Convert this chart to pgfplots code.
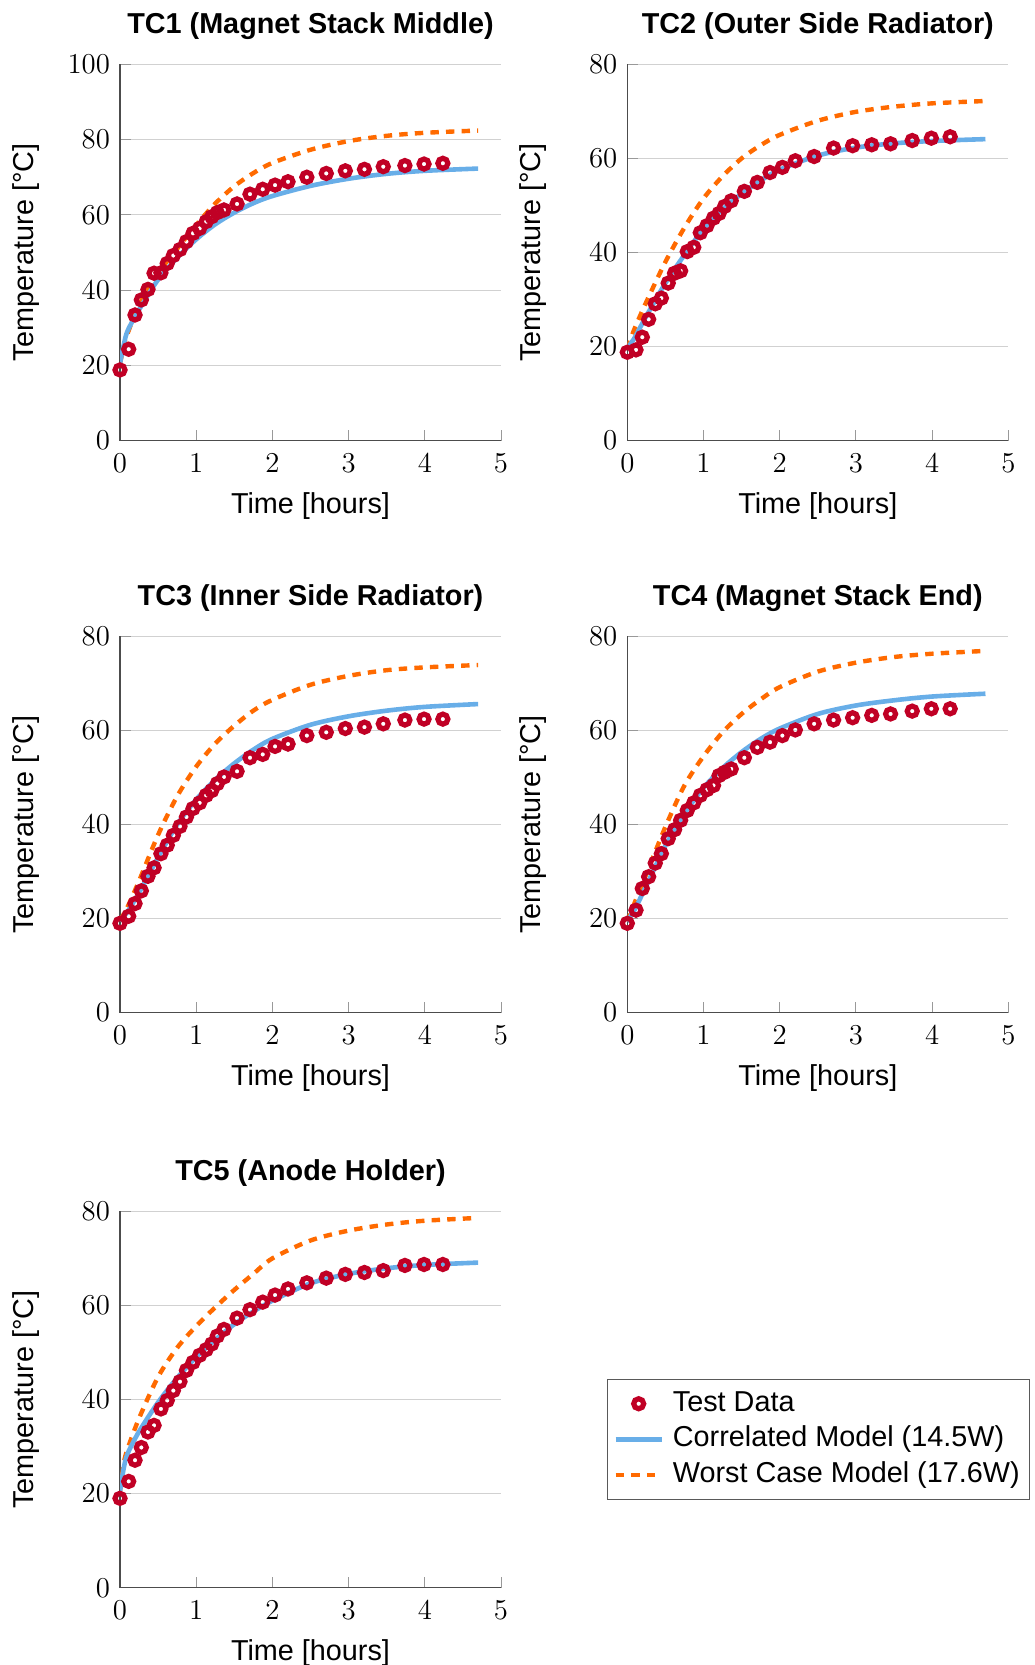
\documentclass[border=0pt]{standalone}
\usepackage{fontspec}
\setmainfont{Liberation Sans}
\usepackage{pgfplots}
\usepackage{pgfplotstable}
\pgfplotsset{compat=1.18}

\definecolor{tcred}{HTML}{C00025}
\definecolor{corrblue}{HTML}{68AEE8}
\definecolor{worstorange}{HTML}{FF6A00}

% Thermocouple measurements (time in hours, temperature in deg C)
\pgfplotstableread{
t     tc1  tc2  tc3  tc4  tc5
0     18.8 18.8 19.0 19.0 19.0
0.114 24.3 19.3 20.5 21.8 22.6
0.197 33.4 22.0 23.2 26.4 27.1
0.28  37.4 25.8 25.9 28.9 29.8
0.367 40.2 29.1 29.0 31.8 33.1
0.447 44.5 30.3 30.8 33.8 34.5
0.537 44.6 33.5 33.8 37.0 38.0
0.62  47.1 35.6 35.6 38.9 39.8
0.70  49.2 36.1 37.7 40.9 41.9
0.787 50.8 40.2 39.6 43.0 43.8
0.872 52.9 41.1 41.6 44.6 46.2
0.958 55.1 44.2 43.4 46.2 47.9
1.045 56.4 45.7 44.6 47.4 49.4
1.131 58.2 47.3 46.2 48.3 50.6
1.204 59.5 48.3 47.2 50.4 51.8
1.277 60.6 49.8 48.7 51.1 53.5
1.364 61.3 51.0 50.1 51.8 54.9
1.536 62.9 53.0 51.3 54.2 57.3
1.706 65.5 54.9 54.2 56.4 59.1
1.873 66.8 57.0 54.9 57.5 60.7
2.035 67.9 58.1 56.6 58.9 62.2
2.205 68.8 59.5 57.1 60.1 63.5
2.452 70.0 60.4 58.9 61.4 64.8
2.707 71.0 62.2 59.6 62.2 65.8
2.957 71.7 62.7 60.4 62.7 66.6
3.208 72.1 62.9 60.7 63.2 67.0
3.455 72.8 63.1 61.4 63.5 67.4
3.739 73.1 63.8 62.2 64.1 68.5
3.99  73.5 64.3 62.4 64.6 68.7
4.237 73.7 64.6 62.4 64.6 68.7
}\testdata

% Correlated model (14.5 W)
\pgfplotstableread{
t    tc1  tc2  tc3  tc4  tc5
0    20.5 19.5 19.5 19.3 20.5
0.05 25.5 20.8 20.5 20.7 25.5
0.1  29.2 22.0 21.5 22.0 28.5
0.25 34.8 26.5 25.5 27.0 33.2
0.5  42.8 33.5 33.0 35.5 39.4
0.75 48.6 39.5 40.0 42.3 44.6
1    53.5 45.0 45.3 47.8 49.0
1.25 57.5 49.2 49.5 52.0 52.7
1.5  60.6 52.5 53.0 55.4 56.0
1.75 63.1 55.3 55.9 58.2 58.7
2    65.0 57.6 58.2 60.4 61.0
2.5  67.7 60.6 61.2 63.5 64.7
3    69.6 62.3 63.0 65.3 66.7
3.5  70.9 63.2 64.2 66.4 67.9
4    71.7 63.7 65.0 67.2 68.6
4.7  72.3 64.1 65.6 67.8 69.1
}\corrmodel

% Worst case model (17.6 W)
\pgfplotstableread{
t    tc1  tc2  tc3  tc4  tc5
0    20.5 19.5 19.5 19.3 20.5
0.05 25.0 21.8 21.0 21.5 26.5
0.1  28.5 24.0 22.5 23.5 29.5
0.25 36.0 29.5 28.0 29.5 36.0
0.5  44.5 38.0 37.8 39.5 44.8
0.75 51.0 45.3 46.0 48.3 51.0
1    57.3 51.5 52.3 54.5 55.6
1.25 63.0 56.2 57.2 59.6 59.6
1.5  67.6 60.0 61.0 63.5 63.3
1.75 71.1 62.8 64.2 66.6 66.7
2    73.8 65.0 66.5 69.2 70.0
2.5  77.3 68.0 69.7 72.5 73.8
3    79.6 69.9 71.6 74.4 75.9
3.5  81.0 71.0 72.8 75.6 77.2
4    81.8 71.7 73.4 76.3 78.0
4.7  82.4 72.2 73.9 76.9 78.6
}\worstmodel

\newcommand{\chartfont}{\fontsize{14.4}{17.3}\selectfont}

\pgfplotsset{
  tcpanel/.style={
    scale only axis, width=190.5pt, height=188.2pt,
    xmin=0, xmax=5, ymin=0,
    xtick={0,1,2,3,4,5},
    axis x line*=bottom, axis y line*=left,
    axis line style={draw=black!70, line width=0.6pt},
    tick style={draw=black!40, line width=0.5pt},
    tick align=inside,
    major tick length=5.5pt,
    ymajorgrids, grid style={draw=black!18, line width=0.5pt},
    tick label style={font=\chartfont},
    yticklabel style={xshift=-1.5pt},
    xticklabel style={yshift=-2.9pt},
    label style={font=\chartfont},
    every axis title shift=0pt,
    title style={font=\chartfont\bfseries, at={(axis description cs:0.5,1)}, anchor=base, yshift=15.65pt},
    xlabel={Time [hours]}, ylabel={Temperature [°C]},
    xlabel style={at={(axis description cs:0.5,0)}, anchor=base, yshift=-36.4pt},
    ylabel style={at={(axis description cs:-0.2268,0.5)}, anchor=base},
    clip mode=individual,
  },
  worstline/.style={worstorange, line width=2.2pt, dash pattern=on 4.2pt off 3.6pt, smooth},
  corrline/.style={corrblue, line width=2.3pt, smooth},
  testmarks/.style={only marks, mark=o, mark size=2.5pt, tcred, line width=2.6pt},
}

\begin{document}
\begin{tikzpicture}
\path[use as bounding box] (0pt,0pt) rectangle (517pt,-832.5pt);

% TC1
\begin{axis}[tcpanel, at={(60pt,-220.35pt)}, anchor=south west,
  ymax=100, ytick={0,20,40,60,80,100}, title={TC1 (Magnet Stack Middle)}]
  \addplot[worstline] table[x=t, y=tc1] {\worstmodel};
  \addplot[corrline] table[x=t, y=tc1] {\corrmodel};
  \addplot[testmarks] table[x=t, y=tc1] {\testdata};
\end{axis}

% TC2
\begin{axis}[tcpanel, at={(313.65pt,-220.35pt)}, anchor=south west,
  ymax=80, ytick={0,20,40,60,80}, title={TC2 (Outer Side Radiator)}]
  \addplot[worstline] table[x=t, y=tc2] {\worstmodel};
  \addplot[corrline] table[x=t, y=tc2] {\corrmodel};
  \addplot[testmarks] table[x=t, y=tc2] {\testdata};
\end{axis}

% TC3
\begin{axis}[tcpanel, at={(60pt,-506.35pt)}, anchor=south west,
  ymax=80, ytick={0,20,40,60,80}, title={TC3 (Inner Side Radiator)}]
  \addplot[worstline] table[x=t, y=tc3] {\worstmodel};
  \addplot[corrline] table[x=t, y=tc3] {\corrmodel};
  \addplot[testmarks] table[x=t, y=tc3] {\testdata};
\end{axis}

% TC4
\begin{axis}[tcpanel, at={(313.65pt,-506.35pt)}, anchor=south west,
  ymax=80, ytick={0,20,40,60,80}, title={TC4 (Magnet Stack End)}]
  \addplot[worstline] table[x=t, y=tc4] {\worstmodel};
  \addplot[corrline] table[x=t, y=tc4] {\corrmodel};
  \addplot[testmarks] table[x=t, y=tc4] {\testdata};
\end{axis}

% TC5 with the shared legend
\begin{axis}[tcpanel, at={(60pt,-793.85pt)}, anchor=south west,
  ymax=80, ytick={0,20,40,60,80}, title={TC5 (Anode Holder)},
  legend cell align=left,
  legend image code/.code={%
    \draw[mark repeat=2,mark phase=2,#1] plot coordinates {(0pt,0pt) (11.5pt,0pt) (23pt,0pt)};
    \path (0pt,0pt) (25.3pt,0pt);},
  legend style={at={(rel axis cs:1.2774,0.5536)}, anchor=north west,
    draw=black!65, fill=white, font=\chartfont,
    inner xsep=3pt, inner ysep=3.2pt, row sep=0.2pt,
    nodes={inner sep=2pt, text height=10.5pt, text depth=3.1pt}}]
  \addplot[worstline, forget plot] table[x=t, y=tc5] {\worstmodel};
  \addplot[corrline, forget plot] table[x=t, y=tc5] {\corrmodel};
  \addplot[testmarks, forget plot] table[x=t, y=tc5] {\testdata};
  \addlegendimage{testmarks}
  \addlegendentry{Test Data}
  \addlegendimage{corrline}
  \addlegendentry{Correlated Model (14.5W)}
  \addlegendimage{worstline}
  \addlegendentry{Worst Case Model (17.6W)}
\end{axis}
\end{tikzpicture}
\end{document}
